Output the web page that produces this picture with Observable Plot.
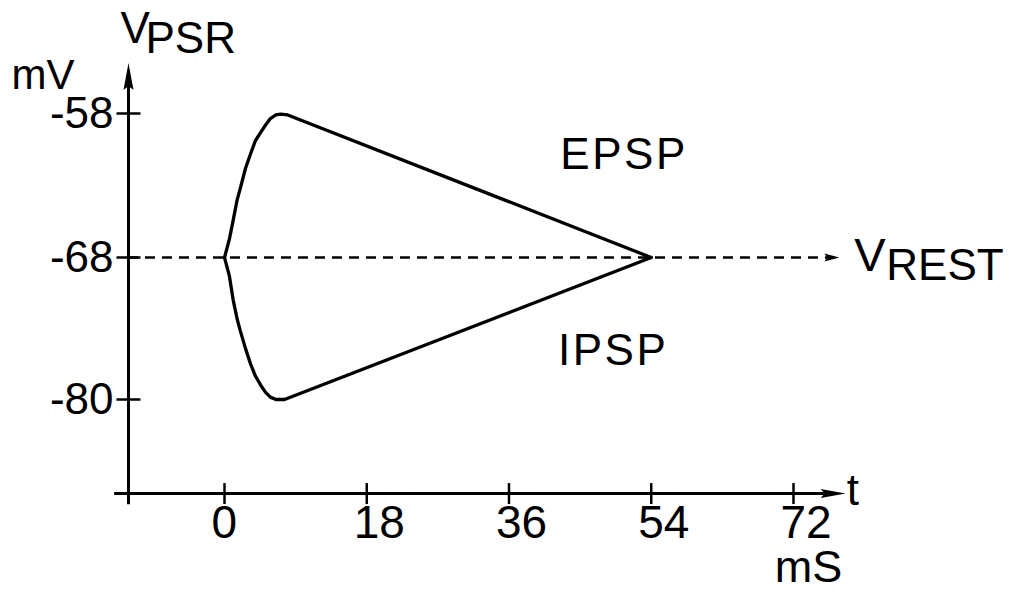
<!DOCTYPE html>
<html>
<head>
<meta charset="utf-8">
<script src="https://cdn.jsdelivr.net/npm/d3@7"></script>
<script src="https://cdn.jsdelivr.net/npm/@observablehq/plot@0.6"></script>
<style>
  html, body { margin: 0; padding: 0; background: #fff; }
  svg { display: block; }
</style>
</head>
<body>
<div id="chart"></div>
<script>
// ---- data ----
const xTicks = [0, 18, 36, 54, 72];            // t, mS
const yTicks = [-58, -68, -80];                // V_PSR, mV
const restV = -68;

const epspT = [0, 0.63, 1.1, 1.6, 2.0, 2.66, 3.3, 3.9, 4.6, 5.2, 5.8, 6.5, 7.1, 8.0, 54];
const epspV = [-68, -66.7, -65.4, -64.0, -63.2, -61.8, -60.8, -59.9, -59.3, -58.8, -58.35, -58.1, -58.05, -58.1, -68];
const ipspT = [0, 0.63, 1.1, 1.6, 2.0, 2.66, 3.3, 3.9, 4.6, 5.2, 5.8, 6.5, 7.6, 54];
const ipspV = [-68, -69.6, -71.6, -73.2, -74.2, -75.7, -77.0, -78.0, -78.8, -79.4, -79.8, -80.0, -80.0, -68];

const labels = ["EPSP", "IPSP"];

// ---- derived tables ----
const epsp = epspT.map((t, i) => ({t, v: epspV[i]}));
const ipsp = ipspT.map((t, i) => ({t, v: ipspV[i]}));

// axis extents (data units)
const yAxisX = -12.15, xAxisY = -87.95;
const xAxisMin = -13.9, xAxisMax = 78.6;
const yAxisMin = -88.9, yAxisMax = -54.5;
const restEnd = 77.8;

const arrowHead = (L, W, notch) => ({
  draw(ctx) {
    ctx.moveTo(0, 0);
    ctx.lineTo(-L, -W / 2);
    ctx.lineTo(-L + notch, 0);
    ctx.lineTo(-L, W / 2);
    ctx.closePath();
  }
});
const vTick = (h) => ({ draw(ctx) { ctx.moveTo(0, -h); ctx.lineTo(0, h); } });
const hTick = (h) => ({ draw(ctx) { ctx.moveTo(-h, 0); ctx.lineTo(h, 0); } });

const font = "Liberation Sans, Arial, Helvetica, sans-serif";

const chart = Plot.plot({
  width: 1010,
  height: 595,
  margin: 0,
  style: { fontFamily: font, background: "#fff", color: "#000" },
  x: { type: "linear", domain: [0, 72], range: [224, 793], axis: null },
  y: { type: "linear", domain: [-80, -68, -58], range: [399, 257, 113], axis: null },
  marks: [
    // axes
    Plot.ruleY([xAxisY], { x1: xAxisMin, x2: xAxisMax - 2, stroke: "#000", strokeWidth: 3 }),
    Plot.ruleX([yAxisX], { y1: yAxisMin, y2: yAxisMax - 1, stroke: "#000", strokeWidth: 3 }),
    Plot.dot([xAxisMax], { x: d => d, y: () => xAxisY, symbol: arrowHead(25, 9, 4), fill: "#000", stroke: "none" }),
    Plot.dot([yAxisMax], { x: () => yAxisX, y: d => d, symbol: arrowHead(27, 10, 4), rotate: -90, fill: "#000", stroke: "none" }),
    // ticks
    Plot.dot(xTicks, { x: d => d, y: () => xAxisY, symbol: vTick(10.5), stroke: "#000", strokeWidth: 2.5, fill: "none" }),
    Plot.dot(yTicks, { x: () => yAxisX, y: d => d, symbol: hTick(12), stroke: "#000", strokeWidth: 2.5, fill: "none" }),
    // tick labels
    Plot.text(xTicks, { x: d => d, y: () => xAxisY, text: d => String(d), textAnchor: "start", dx: -13, dy: 30, fontSize: 46 }),
    Plot.text(yTicks, { x: () => yAxisX, y: d => d, text: d => String(d), textAnchor: "end", dx: -15, fontSize: 44 }),
    // axis titles
    Plot.text(["t"], { x: () => xAxisMax, y: () => xAxisY, text: d => d, textAnchor: "start", dx: 1, dy: -3, fontSize: 44 }),
    Plot.text(["mS"], { x: () => 72, y: () => xAxisY, text: d => d, textAnchor: "middle", dx: 15, dy: 74, fontSize: 45 }),
    Plot.text(["mV"], { x: () => yAxisX, y: () => yAxisMax, text: d => d, textAnchor: "start", dx: -117, dy: 12, fontSize: 42 }),
    Plot.text(["V"], { x: () => yAxisX, y: () => yAxisMax, text: d => d, textAnchor: "start", dx: -8, dy: -34, fontSize: 44 }),
    Plot.text(["PSR"], { x: () => yAxisX, y: () => yAxisMax, text: d => d, textAnchor: "start", dx: 17, dy: -24, fontSize: 44 }),
    // resting potential
    Plot.ruleY([restV], { x1: yAxisX, x2: restEnd - 1, stroke: "#000", strokeWidth: 2.5, strokeDasharray: "10,7" }),
    Plot.dot([restV], { x: () => restEnd, y: d => d, symbol: arrowHead(15, 8, 3), fill: "#000", stroke: "none" }),
    Plot.text(["V"], { x: () => restEnd, y: () => restV, text: d => d, textAnchor: "start", dx: 15, dy: -2, fontSize: 47 }),
    Plot.text(["REST"], { x: () => restEnd, y: () => restV, text: d => d, textAnchor: "start", dx: 47, dy: 8, fontSize: 44 }),
    // potentials
    Plot.line(epsp, { x: "t", y: "v", curve: "linear", stroke: "#000", strokeWidth: 3.3, strokeLinejoin: "round" }),
    Plot.line(ipsp, { x: "t", y: "v", curve: "linear", stroke: "#000", strokeWidth: 3.3, strokeLinejoin: "round" }),
    Plot.text([labels[0]], { x: () => 42.5, y: () => -60.9, text: d => d, textAnchor: "start", fontSize: 44 }),
    Plot.text([labels[1]], { x: () => 42.2, y: () => -75.9, text: d => d, textAnchor: "start", fontSize: 44 })
  ]
});
// widen the two annotation labels slightly, as in the reference lettering
d3.select(chart).selectAll("text")
  .filter(function () { return labels.includes(this.textContent); })
  .style("letter-spacing", "2.5px");
document.getElementById("chart").appendChild(chart);
</script>
</body>
</html>
